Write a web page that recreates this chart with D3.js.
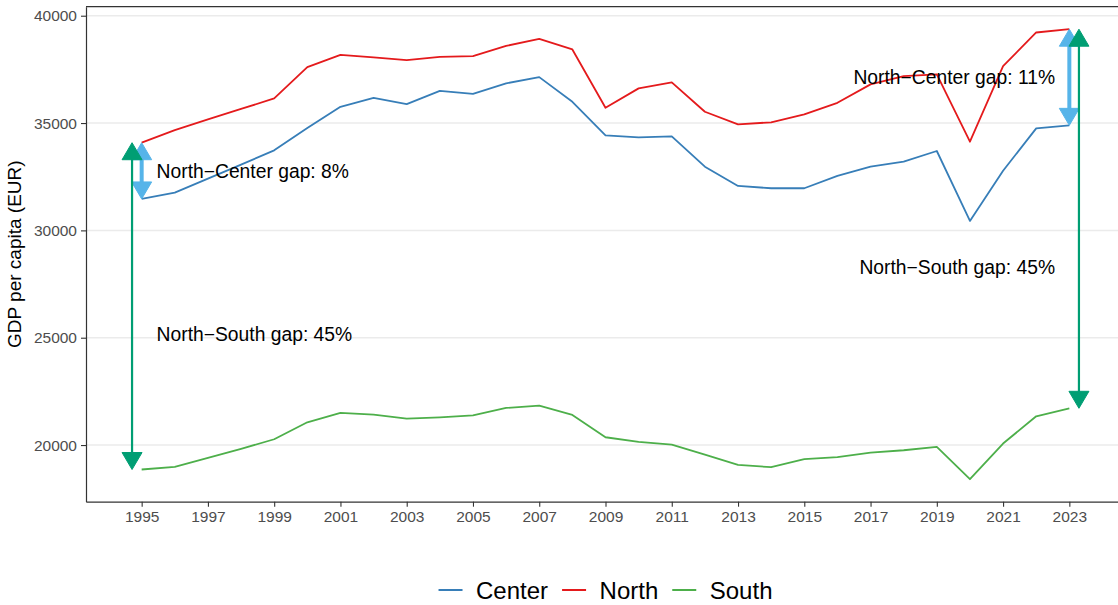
<!DOCTYPE html>
<html>
<head>
<meta charset="utf-8">
<script src="https://cdn.jsdelivr.net/npm/d3@7"></script>
<style>
  body { margin: 0; background: #fff; }
  text { font-family: "Liberation Sans", Arial, Helvetica, sans-serif; }
</style>
</head>
<body>
<div class="chart"></div>
<script>
// GDP per capita by macro-region, EUR
const years = [1995, 1996, 1997, 1998, 1999, 2000, 2001, 2002, 2003, 2004, 2005, 2006, 2007, 2008, 2009,
  2010, 2011, 2012, 2013, 2014, 2015, 2016, 2017, 2018, 2019, 2020, 2021, 2022, 2023];
const north = [34084, 34674, 35167, 35656, 36147, 37605, 38177, 38055, 37930, 38084, 38116, 38595, 38921, 38428, 35712,
  36614, 36893, 35526, 34940, 35033, 35405, 35944, 36800, 37186, 37265, 34130, 37651, 39219, 39372];
const center = [31465, 31758, 32410, 33060, 33730, 34767, 35758, 36177, 35884, 36502, 36363, 36847, 37140, 35991, 34428,
  34335, 34381, 32967, 32070, 31963, 31963, 32535, 32967, 33200, 33698, 30442, 32781, 34753, 34893];
const south = [18860, 18986, 19405, 19823, 20270, 21060, 21498, 21419, 21233, 21293, 21386, 21730, 21837, 21405, 20363,
  20149, 20023, 19558, 19079, 18967, 19340, 19433, 19651, 19758, 19916, 18409, 20070, 21340, 21712];

const regions = ["Center", "North", "South"];
const regionColors = ["#377EB8", "#E41A1C", "#4DAF4A"];
const xTicks = [1995, 1997, 1999, 2001, 2003, 2005, 2007, 2009, 2011, 2013, 2015, 2017, 2019, 2021, 2023];
const yTicks = [20000, 25000, 30000, 35000, 40000];
const ncLabels = ["North\u2212Center gap: 8%", "North\u2212Center gap: 11%"];
const nsLabels = ["North\u2212South gap: 45%", "North\u2212South gap: 45%"];

const W = 1118, H = 605;
const plotL = 86, plotT = 6.7, plotR = 1125, plotB = 501.7;

const svg = d3.select(".chart").append("svg")
    .attr("width", W)
    .attr("height", H);

const x = d3.scaleLinear().domain([1993.32, 2024.68]).range([plotL, plotR]);
const y = d3.scaleLinear().domain([17361, 40420]).range([plotB, plotT]);
const color = d3.scaleOrdinal().domain(regions).range(regionColors);

// grid
svg.append("g").selectAll("line")
    .data(yTicks)
    .enter().append("line")
    .attr("x1", plotL).attr("x2", plotR)
    .attr("y1", d => y(d)).attr("y2", d => y(d))
    .attr("stroke", "#EBEBEB")
    .attr("stroke-width", 1.5);

const series = [
  {name: "Center", values: center},
  {name: "North", values: north},
  {name: "South", values: south}
];

const line = d3.line()
    .x((d, i) => x(years[i]))
    .y(d => y(d));

svg.append("g").selectAll("path")
    .data(series)
    .enter().append("path")
    .attr("d", d => line(d.values))
    .attr("fill", "none")
    .attr("stroke", d => color(d.name))
    .attr("stroke-width", 1.8)
    .attr("stroke-linejoin", "round");

// double headed arrows
function arrow(g, xv, y1v, y2v, col, lw) {
  const ax = x(xv), ya = y(y1v), yb = y(y2v);
  const hl = 17, hw = 10;
  g.append("line")
    .attr("x1", ax).attr("x2", ax)
    .attr("y1", ya + hl - 1).attr("y2", yb - hl + 1)
    .attr("stroke", col)
    .attr("stroke-width", lw);
  g.append("path")
    .attr("d", `M${ax},${ya} L${ax - hw},${ya + hl} L${ax + hw},${ya + hl} Z`)
    .attr("fill", col).attr("stroke", col).attr("stroke-width", 1);
  g.append("path")
    .attr("d", `M${ax},${yb} L${ax - hw},${yb - hl} L${ax + hw},${yb - hl} Z`)
    .attr("fill", col).attr("stroke", col).attr("stroke-width", 1);
}

const arrows = svg.append("g");
const first = 0, last = years.length - 1;
arrow(arrows, years[first], north[first], center[first], "#56B4E9", 4);
arrow(arrows, years[last], north[last], center[last], "#56B4E9", 4);
arrow(arrows, years[first] - 0.29, north[first], south[first], "#009E73", 2.2);
arrow(arrows, years[last] + 0.29, north[last], south[last], "#009E73", 2.2);

// annotation text
const notes = svg.append("g")
    .style("font-size", "19.3px")
    .attr("fill", "#000");
notes.append("text")
    .attr("x", x(years[first] + 0.45))
    .attr("y", (y(north[first]) + y(center[first])) / 2)
    .attr("dy", "0.36em")
    .text(ncLabels[0]);
notes.append("text")
    .attr("x", x(years[first] + 0.45))
    .attr("y", (y(center[first]) + y(south[first])) / 2)
    .attr("dy", "0.36em")
    .text(nsLabels[0]);
notes.append("text")
    .attr("x", x(years[last] - 0.43))
    .attr("y", (y(north[last]) + y(center[last])) / 2)
    .attr("dy", "0.36em")
    .attr("text-anchor", "end")
    .text(ncLabels[1]);
notes.append("text")
    .attr("x", x(years[last] - 0.43))
    .attr("y", (y(center[last]) + y(south[last])) / 2)
    .attr("dy", "0.36em")
    .attr("text-anchor", "end")
    .text(nsLabels[1]);

// axes
const xAxis = d3.axisBottom(x).tickValues(xTicks).tickFormat(d3.format("d"))
    .tickSize(5).tickSizeOuter(0).tickPadding(4);
const yAxis = d3.axisLeft(y).tickValues(yTicks).tickFormat(d3.format("d"))
    .tickSize(5).tickSizeOuter(0).tickPadding(4);

const gx = svg.append("g")
    .attr("transform", `translate(0,${plotB})`)
    .call(xAxis);
const gy = svg.append("g")
    .attr("transform", `translate(${plotL},0)`)
    .call(yAxis);

[gx, gy].forEach(g => {
  g.select(".domain").attr("stroke", "#333").attr("stroke-width", 1.2);
  g.selectAll(".tick line").attr("stroke", "#333").attr("stroke-width", 1.1);
  g.selectAll(".tick text")
    .attr("fill", "#4D4D4D")
    .style("font-size", "15.5px")
    .style("font-family", "'Liberation Sans', Arial, Helvetica, sans-serif");
});

// top border
svg.append("line")
    .attr("x1", plotL).attr("x2", plotR)
    .attr("y1", plotT).attr("y2", plotT)
    .attr("stroke", "#333").attr("stroke-width", 1.2);

svg.append("text")
    .attr("transform", `translate(21,${(plotT + plotB) / 2}) rotate(-90)`)
    .attr("text-anchor", "middle")
    .style("font-size", "19px")
    .text("GDP per capita (EUR)");

// legend
const legend = svg.append("g").attr("id", "legend");
const keyLen = 24, keyGap = 13.5, itemGap = 14;
const items = legend.selectAll("g")
    .data(regions)
    .enter().append("g");
items.append("line")
    .attr("x1", 0).attr("x2", keyLen)
    .attr("y1", 0).attr("y2", 0)
    .attr("stroke", d => color(d))
    .attr("stroke-width", 2);
items.append("text")
    .attr("x", keyLen + keyGap)
    .attr("y", 0)
    .attr("dy", "0.36em")
    .style("font-size", "24px")
    .attr("fill", "#000")
    .text(d => d);

let pos = 0;
const offsets = [];
items.each(function() {
  const tw = d3.select(this).select("text").node().getComputedTextLength();
  offsets.push(pos);
  pos += keyLen + keyGap + tw + itemGap;
});
const total = pos - itemGap;
const startX = (plotL + plotR) / 2 - total / 2;
items.attr("transform", (d, i) => `translate(${startX + offsets[i]},590)`);
</script>
</body>
</html>
